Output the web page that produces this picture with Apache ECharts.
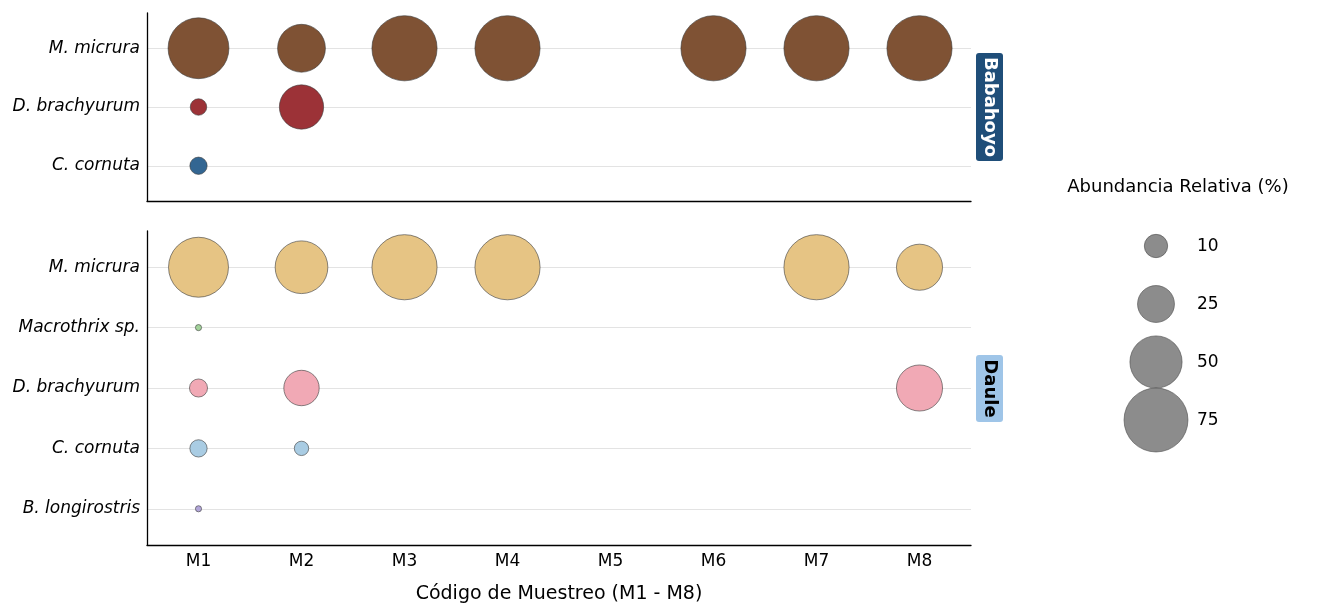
<!DOCTYPE html>
<html>
<head>
<meta charset="utf-8">
<script src="https://cdn.jsdelivr.net/npm/echarts@6/dist/echarts.min.js"></script>
<style>
  html, body { margin: 0; padding: 0; background: #fff; }
  #chart { width: 1319px; height: 613px; }
</style>
</head>
<body>
<div id="chart"></div>
<script>
// muestreos
var samples = ['M1', 'M2', 'M3', 'M4', 'M5', 'M6', 'M7', 'M8'];

// especies por sitio (de arriba hacia abajo)
var speciesBabahoyo = ['M. micrura', 'D. brachyurum', 'C. cornuta'];
var speciesDaule = ['M. micrura', 'Macrothrix sp.', 'D. brachyurum', 'C. cornuta', 'B. longirostris'];

// abundancia relativa (%) por muestreo, null = ausente
var babMicrura     = [68, 42, 78, 78, null, 78, 78, 78];
var babBrachyurum  = [5, 36, null, null, null, null, null, null];
var babCornuta     = [5.5, null, null, null, null, null, null, null];

var dauMicrura      = [66, 51, 78, 78, null, null, 78, 39];
var dauMacrothrix   = [0.7, null, null, null, null, null, null, null];
var dauBrachyurum   = [6, 23, null, null, null, null, null, 39];
var dauCornuta      = [5.5, 3.8, null, null, null, null, null, null];
var dauLongirostris = [0.7, null, null, null, null, null, null, null];

// valores de la leyenda de tamaño
var legendValues = [10, 25, 50, 75];

var font = 'DejaVu Sans';

function bubbleSize(val) {
  return 7.38 * Math.sqrt(val[2]);
}

// convierte un arreglo por muestreo en puntos [x, y, valor]
function toPoints(arr, row) {
  var pts = [];
  for (var i = 0; i < arr.length; i++) {
    if (arr[i] != null) pts.push([samples[i], row, arr[i]]);
  }
  return pts;
}

function bubbleSeries(name, arr, row, gridIdx, color) {
  return {
    name: name,
    type: 'scatter',
    xAxisIndex: gridIdx,
    yAxisIndex: gridIdx,
    data: toPoints(arr, row),
    symbolSize: bubbleSize,
    itemStyle: { color: color, borderColor: '#3a3a3a', borderWidth: 0.6, opacity: 1 },
    emphasis: { disabled: true }
  };
}

function yAxisFor(gridIdx, species) {
  var idx = species.map(function (s, i) { return i; });
  return {
    gridIndex: gridIdx,
    type: 'value',
    inverse: true,
    min: -0.6,
    max: species.length - 0.4,
    axisLine: { show: true, onZero: false, lineStyle: { color: '#000', width: 1.3 } },
    axisTick: { show: false, customValues: idx },
    axisLabel: {
      customValues: idx,
      formatter: function (v) { return species[Math.round(v)] || ''; },
      color: '#000', fontFamily: font, fontStyle: 'italic', fontSize: 17, margin: 7
    },
    splitLine: { show: true, lineStyle: { color: '#e3e3e3', width: 1 } }
  };
}

var myChart = echarts.init(document.getElementById('chart'));

var option = {
  animation: false,
  backgroundColor: '#fff',
  grid: [
    { left: 147, top: 13, width: 824, height: 188 },
    { left: 147, top: 231, width: 824, height: 314 },
    { left: 1106, top: 217, width: 100, height: 232 }
  ],
  xAxis: [
    {
      gridIndex: 0, type: 'category', data: samples, boundaryGap: true,
      axisLine: { onZero: false, lineStyle: { color: '#000', width: 1.3 } },
      axisTick: { show: false }, axisLabel: { show: false }, splitLine: { show: false }
    },
    {
      gridIndex: 1, type: 'category', data: samples, boundaryGap: true,
      axisLine: { onZero: false, lineStyle: { color: '#000', width: 1.3 } },
      axisTick: { show: false },
      axisLabel: { color: '#000', fontFamily: font, fontSize: 17, margin: 8 },
      splitLine: { show: false },
      name: 'Código de Muestreo (M1 - M8)',
      nameLocation: 'middle', nameGap: 40,
      nameTextStyle: { color: '#000', fontFamily: font, fontSize: 19 }
    },
    { gridIndex: 2, type: 'value', min: 0, max: 1, show: false }
  ],
  yAxis: [
    yAxisFor(0, speciesBabahoyo),
    yAxisFor(1, speciesDaule),
    { gridIndex: 2, type: 'value', inverse: true, min: -0.5, max: 3.5, show: false }
  ],
  series: [
    bubbleSeries('M. micrura', babMicrura, 0, 0, '#7f5234'),
    bubbleSeries('D. brachyurum', babBrachyurum, 1, 0, '#9c3237'),
    bubbleSeries('C. cornuta', babCornuta, 2, 0, '#336692'),

    bubbleSeries('M. micrura', dauMicrura, 0, 1, '#e6c484'),
    bubbleSeries('Macrothrix sp.', dauMacrothrix, 1, 1, '#a3d39b'),
    bubbleSeries('D. brachyurum', dauBrachyurum, 2, 1, '#f1a9b5'),
    bubbleSeries('C. cornuta', dauCornuta, 3, 1, '#a9cce3'),
    bubbleSeries('B. longirostris', dauLongirostris, 4, 1, '#b2a6d9'),

    {
      name: 'leyenda',
      type: 'scatter',
      xAxisIndex: 2,
      yAxisIndex: 2,
      data: legendValues.map(function (v, i) { return [0.5, i, v]; }),
      symbolSize: bubbleSize,
      itemStyle: { color: '#8c8c8c', borderColor: '#4a4a4a', borderWidth: 0.6, opacity: 1 },
      label: {
        show: true, position: 'inside', align: 'left', offset: [41, 1],
        formatter: function (p) { return p.value[2]; },
        color: '#000', fontFamily: font, fontSize: 17
      },
      emphasis: { disabled: true }
    }
  ],
  graphic: [
    {
      type: 'text', x: 1178, y: 187,
      style: { text: 'Abundancia Relativa (%)', fill: '#000', font: '18px "DejaVu Sans"', align: 'center', verticalAlign: 'middle' }
    },
    {
      type: 'group',
      children: [
        { type: 'rect', shape: { x: 976, y: 53, width: 27, height: 108, r: 3 }, style: { fill: '#1f4e79' } },
        {
          type: 'text', x: 989.5, y: 107, rotation: -Math.PI / 2,
          style: { text: 'Babahoyo', fill: '#fff', font: 'bold 18px "DejaVu Sans"', align: 'center', verticalAlign: 'middle' }
        }
      ]
    },
    {
      type: 'group',
      children: [
        { type: 'rect', shape: { x: 976, y: 355, width: 27, height: 67, r: 3 }, style: { fill: '#9fc5e8' } },
        {
          type: 'text', x: 989.5, y: 388.5, rotation: -Math.PI / 2,
          style: { text: 'Daule', fill: '#000', font: 'bold 18px "DejaVu Sans"', align: 'center', verticalAlign: 'middle' }
        }
      ]
    }
  ]
};

myChart.setOption(option);
</script>
</body>
</html>
